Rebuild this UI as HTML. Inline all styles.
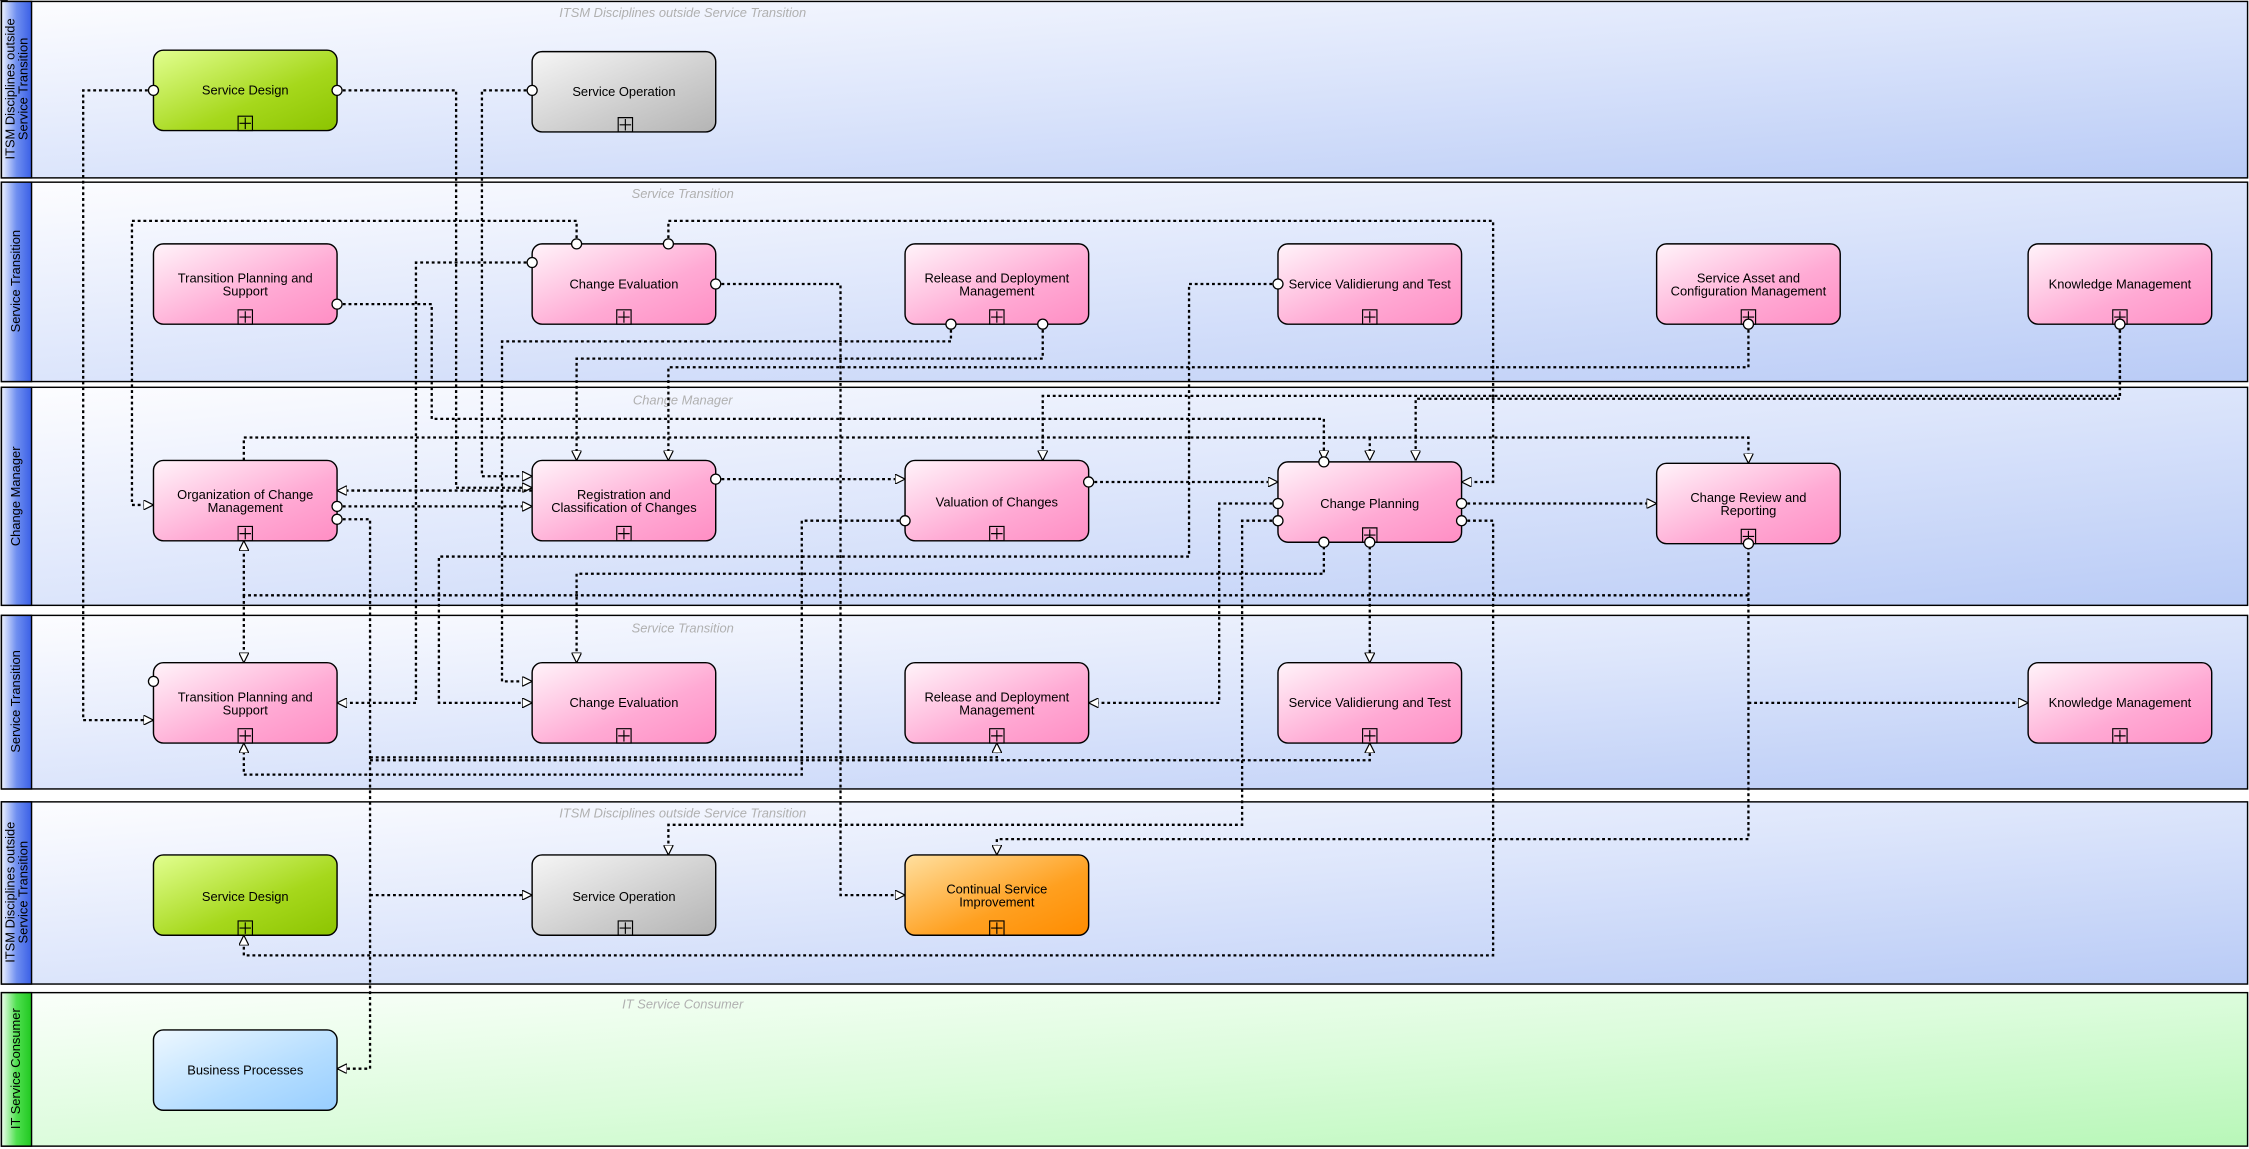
<!DOCTYPE html>
<html><head><meta charset="utf-8"><style>
html,body{margin:0;padding:0;background:#fff;}
svg{display:block;}
text{font-family:"Liberation Sans",sans-serif;}
</style></head><body>
<svg width="2249" height="1149" viewBox="0 0 1568 801" preserveAspectRatio="none" xmlns="http://www.w3.org/2000/svg">
<defs>
<linearGradient id="lane" x1="0" y1="0" x2="1" y2="1"><stop offset="0" stop-color="#fdfdff"/><stop offset="0.5" stop-color="#dce5fb"/><stop offset="1" stop-color="#b9cbf6"/></linearGradient>
<linearGradient id="laneg" x1="0" y1="0" x2="1" y2="1"><stop offset="0" stop-color="#fbfffb"/><stop offset="0.5" stop-color="#dcfcdc"/><stop offset="1" stop-color="#b8f7b8"/></linearGradient>
<linearGradient id="hb" x1="0" y1="0" x2="1" y2="0"><stop offset="0" stop-color="#f0f4ff"/><stop offset="0.5" stop-color="#6f8ff0"/><stop offset="1" stop-color="#3a5fe6"/></linearGradient>
<linearGradient id="hg" x1="0" y1="0" x2="1" y2="0"><stop offset="0" stop-color="#f0fff0"/><stop offset="0.5" stop-color="#50e050"/><stop offset="1" stop-color="#20c820"/></linearGradient>
<linearGradient id="pink" x1="0" y1="0" x2="1" y2="1"><stop offset="0" stop-color="#fff4fa"/><stop offset="0.6" stop-color="#ffaad4"/><stop offset="1" stop-color="#ff8ec4"/></linearGradient>
<linearGradient id="green" x1="0" y1="0" x2="1" y2="1"><stop offset="0" stop-color="#e2ff90"/><stop offset="0.6" stop-color="#a6d81c"/><stop offset="1" stop-color="#8cc400"/></linearGradient>
<linearGradient id="gray" x1="0" y1="0" x2="1" y2="1"><stop offset="0" stop-color="#f6f6f6"/><stop offset="0.6" stop-color="#cdcdcd"/><stop offset="1" stop-color="#b4b4b4"/></linearGradient>
<linearGradient id="orange" x1="0" y1="0" x2="1" y2="1"><stop offset="0" stop-color="#ffe0a0"/><stop offset="0.6" stop-color="#ffa020"/><stop offset="1" stop-color="#ff8c00"/></linearGradient>
<linearGradient id="blue" x1="0" y1="0" x2="1" y2="1"><stop offset="0" stop-color="#eef8ff"/><stop offset="0.6" stop-color="#b4ddff"/><stop offset="1" stop-color="#98ceff"/></linearGradient>
<marker id="a" viewBox="0 0 10 10" refX="10" refY="5" markerWidth="7" markerHeight="7" markerUnits="userSpaceOnUse" orient="auto"><path d="M0,0 L10,5 L0,10 z" fill="#fff" stroke="#000" stroke-width="1.2"/></marker>
<marker id="c" viewBox="0 0 10 10" refX="5" refY="5" markerWidth="8" markerHeight="8" markerUnits="userSpaceOnUse"><circle cx="5" cy="5" r="4" fill="#fff" stroke="#000" stroke-width="1.2"/></marker>
</defs>
<rect width="1568" height="801" fill="#fff"/>
<!-- lanes -->
<g stroke="#000" stroke-width="1">
<rect x="1" y="1" width="1566" height="123" fill="url(#lane)"/>
<rect x="1" y="127" width="1566" height="139" fill="url(#lane)"/>
<rect x="1" y="270" width="1566" height="152" fill="url(#lane)"/>
<rect x="1" y="429" width="1566" height="121" fill="url(#lane)"/>
<rect x="1" y="559" width="1566" height="127" fill="url(#lane)"/>
<rect x="1" y="692" width="1566" height="107" fill="url(#laneg)"/>
<rect x="1" y="1" width="21" height="123" fill="url(#hb)"/>
<rect x="1" y="127" width="21" height="139" fill="url(#hb)"/>
<rect x="1" y="270" width="21" height="152" fill="url(#hb)"/>
<rect x="1" y="429" width="21" height="121" fill="url(#hb)"/>
<rect x="1" y="559" width="21" height="127" fill="url(#hb)"/>
<rect x="1" y="692" width="21" height="107" fill="url(#hg)"/>
</g>
<g font-size="9" fill="#000" text-anchor="middle">
<text transform="translate(10,62) rotate(-90)">ITSM Disciplines outside</text>
<text transform="translate(19,62) rotate(-90)">Service Transition</text>
<text transform="translate(14,196) rotate(-90)">Service Transition</text>
<text transform="translate(14,346) rotate(-90)">Change Manager</text>
<text transform="translate(14,489) rotate(-90)">Service Transition</text>
<text transform="translate(10,622) rotate(-90)">ITSM Disciplines outside</text>
<text transform="translate(19,622) rotate(-90)">Service Transition</text>
<text transform="translate(14,745) rotate(-90)">IT Service Consumer</text>
</g>
<g font-size="9" fill="#b0b0b0" font-style="italic" text-anchor="middle">
<text x="476" y="12">ITSM Disciplines outside Service Transition</text>
<text x="476" y="138">Service Transition</text>
<text x="476" y="282">Change Manager</text>
<text x="476" y="441">Service Transition</text>
<text x="476" y="570">ITSM Disciplines outside Service Transition</text>
<text x="476" y="703">IT Service Consumer</text>
</g>
<!-- connectors -->
<g fill="none" stroke="#000" stroke-width="1.6" stroke-dasharray="2,2" marker-end="url(#a)">
<polyline points="107,63 58,63 58,502 107,502"/>
<polyline points="235,63 318,63 318,340 371,340"/>
<polyline points="371,63 336,63 336,332 371,332"/>
<polyline points="402,170 402,154 92,154 92,352 107,352"/>
<polyline points="466,170 466,154 1041,154 1041,336 1019,336"/>
<polyline points="371,183 290,183 290,490 235,490"/>
<polyline points="499,198 586,198 586,624 631,624"/>
<polyline points="235,212 301,212 301,292 923,292 923,321"/>
<polyline points="663,226 663,238 350,238 350,475 371,475"/>
<polyline points="727,226 727,250 402,250 402,321"/>
<polyline points="891,198 829,198 829,388 306,388 306,490 371,490"/>
<polyline points="1219,226 1219,256 466,256 466,321"/>
<polyline points="1478,226 1478,278 987,278 987,321"/>
<polyline points="1478,226 1478,276 727,276 727,321"/>
<polyline points="170,321 170,305 1219,305 1219,323"/>
<polyline points="955,305 955,321"/>
<polyline points="235,353 371,353"/>
<polyline points="371,342 235,342"/>
<polyline points="235,362 258,362 258,745 235,745"/>
<polyline points="258,624 371,624"/>
<polyline points="499,334 631,334"/>
<polyline points="759,336 891,336"/>
<polyline points="631,363 559,363 559,540 170,540 170,518"/>
<polyline points="1019,351 1155,351"/>
<polyline points="1019,363 1041,363 1041,666 170,666 170,652"/>
<polyline points="891,351 850,351 850,490 759,490"/>
<polyline points="891,363 866,363 866,575 466,575 466,596"/>
<polyline points="923,377 923,400 402,400 402,462"/>
<polyline points="955,377 955,462"/>
<polyline points="1219,377 1219,585 695,585 695,596"/>
<polyline points="1219,490 1414,490"/>
<polyline points="1219,415 170,415 170,377"/>
<polyline points="170,415 170,462"/>
<polyline points="258,530 955,530 955,518"/>
<polyline points="258,528 695,528 695,518"/>
</g>
<!-- nodes -->
<g stroke="#000" stroke-width="1">
<rect x="107" y="35" width="128" height="56" rx="7" fill="url(#green)"/>
<rect x="371" y="36" width="128" height="56" rx="7" fill="url(#gray)"/>
<rect x="107" y="170" width="128" height="56" rx="7" fill="url(#pink)"/>
<rect x="371" y="170" width="128" height="56" rx="7" fill="url(#pink)"/>
<rect x="631" y="170" width="128" height="56" rx="7" fill="url(#pink)"/>
<rect x="891" y="170" width="128" height="56" rx="7" fill="url(#pink)"/>
<rect x="1155" y="170" width="128" height="56" rx="7" fill="url(#pink)"/>
<rect x="1414" y="170" width="128" height="56" rx="7" fill="url(#pink)"/>
<rect x="107" y="321" width="128" height="56" rx="7" fill="url(#pink)"/>
<rect x="371" y="321" width="128" height="56" rx="7" fill="url(#pink)"/>
<rect x="631" y="321" width="128" height="56" rx="7" fill="url(#pink)"/>
<rect x="891" y="322" width="128" height="56" rx="7" fill="url(#pink)"/>
<rect x="1155" y="323" width="128" height="56" rx="7" fill="url(#pink)"/>
<rect x="107" y="462" width="128" height="56" rx="7" fill="url(#pink)"/>
<rect x="371" y="462" width="128" height="56" rx="7" fill="url(#pink)"/>
<rect x="631" y="462" width="128" height="56" rx="7" fill="url(#pink)"/>
<rect x="891" y="462" width="128" height="56" rx="7" fill="url(#pink)"/>
<rect x="1414" y="462" width="128" height="56" rx="7" fill="url(#pink)"/>
<rect x="107" y="596" width="128" height="56" rx="7" fill="url(#green)"/>
<rect x="371" y="596" width="128" height="56" rx="7" fill="url(#gray)"/>
<rect x="631" y="596" width="128" height="56" rx="7" fill="url(#orange)"/>
<rect x="107" y="718" width="128" height="56" rx="7" fill="url(#blue)"/>
</g>
<!-- plus boxes -->
<g stroke="#000" stroke-width="0.8" fill="none">
<path id="p" d="M-5,-10 h10 v10 h-10 z M0,-9 v8 M-4,-5 h8"/>
<use href="#p" x="171" y="91"/><use href="#p" x="436" y="92"/>
<use href="#p" x="171" y="226"/><use href="#p" x="435" y="226"/><use href="#p" x="695" y="226"/><use href="#p" x="955" y="226"/><use href="#p" x="1219" y="226"/><use href="#p" x="1478" y="226"/>
<use href="#p" x="171" y="377"/><use href="#p" x="435" y="377"/><use href="#p" x="695" y="377"/><use href="#p" x="955" y="378"/><use href="#p" x="1219" y="379"/>
<use href="#p" x="171" y="518"/><use href="#p" x="435" y="518"/><use href="#p" x="695" y="518"/><use href="#p" x="955" y="518"/><use href="#p" x="1478" y="518"/>
<use href="#p" x="171" y="652"/><use href="#p" x="436" y="652"/><use href="#p" x="695" y="652"/>
</g>
<!-- port circles -->
<g fill="#fff" stroke="#000" stroke-width="0.9">
<circle cx="107" cy="63" r="3.5"/><circle cx="235" cy="63" r="3.5"/><circle cx="371" cy="63" r="3.5"/>
<circle cx="402" cy="170" r="3.5"/><circle cx="466" cy="170" r="3.5"/><circle cx="371" cy="183" r="3.5"/><circle cx="499" cy="198" r="3.5"/><circle cx="235" cy="212" r="3.5"/>
<circle cx="663" cy="226" r="3.5"/><circle cx="727" cy="226" r="3.5"/><circle cx="891" cy="198" r="3.5"/><circle cx="1219" cy="226" r="3.5"/><circle cx="1478" cy="226" r="3.5"/>
<circle cx="235" cy="353" r="3.5"/><circle cx="235" cy="362" r="3.5"/><circle cx="499" cy="334" r="3.5"/><circle cx="759" cy="336" r="3.5"/><circle cx="631" cy="363" r="3.5"/>
<circle cx="923" cy="322" r="3.5"/><circle cx="891" cy="351" r="3.5"/><circle cx="891" cy="363" r="3.5"/><circle cx="1019" cy="351" r="3.5"/><circle cx="1019" cy="363" r="3.5"/><circle cx="923" cy="378" r="3.5"/><circle cx="955" cy="378" r="3.5"/><circle cx="1219" cy="379" r="3.5"/>
<circle cx="107" cy="475" r="3.5"/>
</g>
<!-- labels -->
<g font-size="9" fill="#000" text-anchor="middle">
<text x="171" y="66">Service Design</text>
<text x="435" y="67">Service Operation</text>
<text x="171" y="197">Transition Planning and</text><text x="171" y="206">Support</text>
<text x="435" y="201">Change Evaluation</text>
<text x="695" y="197">Release and Deployment</text><text x="695" y="206">Management</text>
<text x="955" y="201">Service Validierung and Test</text>
<text x="1219" y="197">Service Asset and</text><text x="1219" y="206">Configuration Management</text>
<text x="1478" y="201">Knowledge Management</text>
<text x="171" y="348">Organization of Change</text><text x="171" y="357">Management</text>
<text x="435" y="348">Registration and</text><text x="435" y="357">Classification of Changes</text>
<text x="695" y="353">Valuation of Changes</text>
<text x="955" y="354">Change Planning</text>
<text x="1219" y="350">Change Review and</text><text x="1219" y="359">Reporting</text>
<text x="171" y="489">Transition Planning and</text><text x="171" y="498">Support</text>
<text x="435" y="493">Change Evaluation</text>
<text x="695" y="489">Release and Deployment</text><text x="695" y="498">Management</text>
<text x="955" y="493">Service Validierung and Test</text>
<text x="1478" y="493">Knowledge Management</text>
<text x="171" y="628">Service Design</text>
<text x="435" y="628">Service Operation</text>
<text x="695" y="623">Continual Service</text><text x="695" y="632">Improvement</text>
<text x="171" y="749">Business Processes</text>
</g>
</svg>
</body></html>
